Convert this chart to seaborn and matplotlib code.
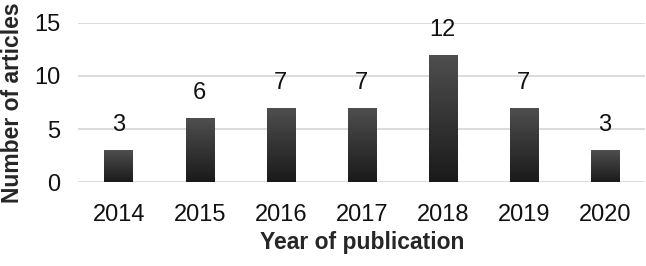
import numpy as np
import pandas as pd
import matplotlib
matplotlib.use("Agg")
import matplotlib.pyplot as plt
import seaborn as sns

years = ["2014", "2015", "2016", "2017", "2018", "2019", "2020"]
articles = [3, 6, 7, 7, 12, 7, 3]

sns.set_style("white")
plt.rcParams["font.family"] = ["Liberation Sans", "DejaVu Sans"]

df = pd.DataFrame({"year": years, "n": articles})

fig, ax = plt.subplots(figsize=(6.46, 2.66), dpi=100)
sns.barplot(data=df, x="year", y="n", color="#2a2a2a", width=0.35, ax=ax,
            edgecolor="none", zorder=2)

# vertical gradient fill on each bar (lighter top, dark bottom)
grad = np.linspace(0, 1, 256).reshape(-1, 1)
cmap = matplotlib.colors.LinearSegmentedColormap.from_list("g", ["#1a1a1a", "#4f4f4f"])
for p in ax.patches:
    x0, y0 = p.get_x(), p.get_y()
    w, h = p.get_width(), p.get_height()
    im = ax.imshow(grad, cmap=cmap, aspect="auto", origin="lower",
                   extent=[x0, x0 + w, y0, y0 + h], zorder=3)
    im.set_clip_path(p)
    ax.annotate(f"{int(h)}", (x0 + w / 2, h), xytext=(0, 10),
                textcoords="offset points", ha="center", va="bottom",
                fontsize=17, color="#111111")

ax.set_ylim(0, 15)
ax.set_xlim(-0.5, len(years) - 0.5)
ax.set_yticks([0, 5, 10, 15])
ax.yaxis.grid(True, color="#d9d9d9", lw=1.3, zorder=0)
ax.set_axisbelow(True)
sns.despine(left=True, bottom=True, right=True, top=True)
ax.tick_params(axis="both", length=0, labelsize=17, colors="#111111")
ax.tick_params(axis="x", pad=16)
ax.tick_params(axis="y", pad=13)
ax.set_xlabel("Year of publication", fontsize=16.5, fontweight="bold", labelpad=3)
ax.set_ylabel("Number of articles", fontsize=16.5, fontweight="bold", labelpad=7)

plt.subplots_adjust(left=0.121, right=0.999, top=0.915, bottom=0.315)
fig.savefig("out.png", dpi=100)
